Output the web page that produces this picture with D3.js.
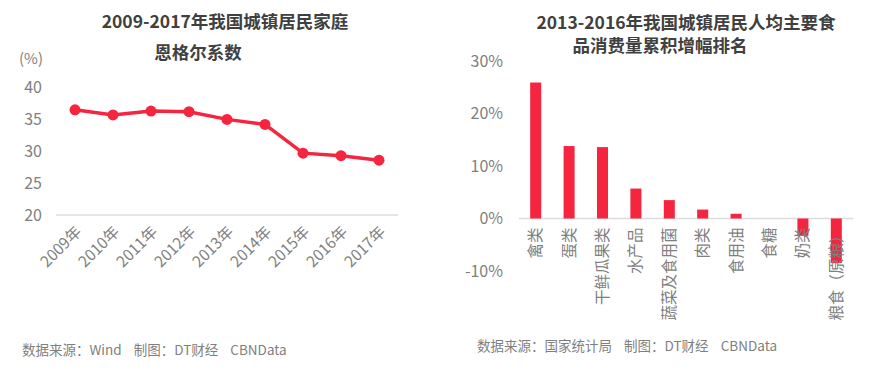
<!DOCTYPE html>
<html>
<head>
<meta charset="utf-8">
<style>
  body { margin: 0; background: #fff; }
  text { font-family: "Noto Sans CJK SC", "Noto Sans", sans-serif; }
</style>
</head>
<body>
<script src="https://d3js.org/d3.v7.min.js"></script>
<script>
// left chart: Engel coefficient
var years = ["2009年","2010年","2011年","2012年","2013年","2014年","2015年","2016年","2017年"];
var engel = [36.5, 35.7, 36.3, 36.2, 35.0, 34.2, 29.7, 29.3, 28.6];
var engelTicks = [20, 25, 30, 35, 40];

// right chart: food consumption growth 2013-2016
var foods = ["禽类","蛋类","干鲜瓜果类","水产品","蔬菜及食用菌","肉类","食用油","食糖","奶类","粮食（原粮）"];
var growth = [25.9, 13.8, 13.6, 5.7, 3.5, 1.7, 0.9, 0, -3.3, -8.5];
var growthTicks = [-10, 0, 10, 20, 30];

var W = 872, H = 372;
var red = "#f5253f", grey = "#7f7f7f", dark = "#404040";

var svg = d3.select("body").append("svg")
    .attr("width", W).attr("height", H);
svg.append("rect").attr("width", W).attr("height", H).attr("fill", "#fff");

// ---- left chart
var x1 = d3.scalePoint().domain(years).range([56, 398]).padding(0.5);
var y1 = d3.scaleLinear().domain([20, 40]).range([215, 87.5]);

svg.append("text").attr("x", 225).attr("y", 28).attr("text-anchor", "middle")
   .attr("font-size", 17.5).attr("font-weight", "bold").attr("fill", dark)
   .text("2009-2017年我国城镇居民家庭");
svg.append("text").attr("x", 198).attr("y", 59).attr("text-anchor", "middle")
   .attr("font-size", 17.5).attr("font-weight", "bold").attr("fill", dark)
   .text("恩格尔系数");
svg.append("text").attr("x", 43).attr("y", 64).attr("text-anchor", "end")
   .attr("font-size", 15).attr("fill", grey).text("(%)");

var yAx1 = svg.append("g").attr("transform", "translate(42,0)")
   .call(d3.axisLeft(y1).tickValues(engelTicks).tickSize(0).tickPadding(0));
yAx1.select(".domain").remove();
yAx1.selectAll("text").attr("font-size", 16).attr("fill", grey).attr("font-family", null);

svg.append("line").attr("x1", 56).attr("x2", 398)
   .attr("y1", y1(20)).attr("y2", y1(20))
   .attr("stroke", "#dcdcdc").attr("stroke-width", 1.5);

var xAx1 = svg.append("g").attr("transform", "translate(3," + (y1(20) + 14) + ")")
   .call(d3.axisBottom(x1).tickSize(0).tickPadding(0));
xAx1.select(".domain").remove();
xAx1.selectAll("text")
   .attr("font-size", 15.5).attr("fill", grey).attr("font-family", null)
   .attr("text-anchor", "end").attr("dy", "0.35em").attr("y", 0)
   .attr("transform", "rotate(-45)");

var line = d3.line().x(function(d, i){ return x1(years[i]); }).y(function(d){ return y1(d); });
svg.append("path").datum(engel).attr("d", line)
   .attr("fill", "none").attr("stroke", red).attr("stroke-width", 3.5);
svg.selectAll("circle.pt").data(engel).enter().append("circle")
   .attr("class", "pt")
   .attr("cx", function(d, i){ return x1(years[i]); })
   .attr("cy", function(d){ return y1(d); })
   .attr("r", 5.5).attr("fill", red);

// ---- right chart
var x2 = d3.scaleBand().domain(foods).range([519, 853]).paddingInner(0.67).paddingOuter(0.335);
var y2 = d3.scaleLinear().domain([-10, 30]).range([271, 61]);

svg.append("text").attr("x", 686).attr("y", 29).attr("text-anchor", "middle")
   .attr("font-size", 17.5).attr("font-weight", "bold").attr("fill", dark)
   .text("2013-2016年我国城镇居民人均主要食");
svg.append("text").attr("x", 660).attr("y", 52).attr("text-anchor", "middle")
   .attr("font-size", 17.5).attr("font-weight", "bold").attr("fill", dark)
   .text("品消费量累积增幅排名");

var yAx2 = svg.append("g").attr("transform", "translate(503,0)")
   .call(d3.axisLeft(y2).tickValues(growthTicks).tickSize(0).tickPadding(0)
         .tickFormat(function(d){ return d + "%"; }));
yAx2.select(".domain").remove();
yAx2.selectAll("text").attr("font-size", 16).attr("fill", grey).attr("font-family", null);

svg.append("line").attr("x1", 519).attr("x2", 853)
   .attr("y1", y2(0)).attr("y2", y2(0))
   .attr("stroke", "#dcdcdc").attr("stroke-width", 1.5);

svg.selectAll("rect.bar").data(growth).enter().append("rect")
   .attr("class", "bar")
   .attr("x", function(d, i){ return x2(foods[i]); })
   .attr("width", x2.bandwidth())
   .attr("y", function(d){ return y2(Math.max(d, 0)); })
   .attr("height", function(d){ return Math.abs(y2(d) - y2(0)); })
   .attr("fill", red);

svg.selectAll("text.cat").data(foods).enter().append("text")
   .attr("class", "cat")
   .attr("transform", function(d){
     return "translate(" + (x2(d) + x2.bandwidth() / 2) + "," + (y2(0) + 9) + ") rotate(-90)";
   })
   .attr("text-anchor", "end").attr("dy", "0.35em")
   .attr("font-size", 15.5).attr("fill", grey)
   .text(function(d){ return d; });

// ---- footers
svg.append("text").attr("x", 22).attr("y", 355).attr("font-size", 13.5).attr("fill", grey)
   .attr("xml:space", "preserve")
   .text("数据来源：Wind    制图：DT财经    CBNData");
svg.append("text").attr("x", 477).attr("y", 351).attr("font-size", 13.5).attr("fill", grey)
   .attr("xml:space", "preserve")
   .text("数据来源：国家统计局    制图：DT财经    CBNData");
</script>
</body>
</html>
